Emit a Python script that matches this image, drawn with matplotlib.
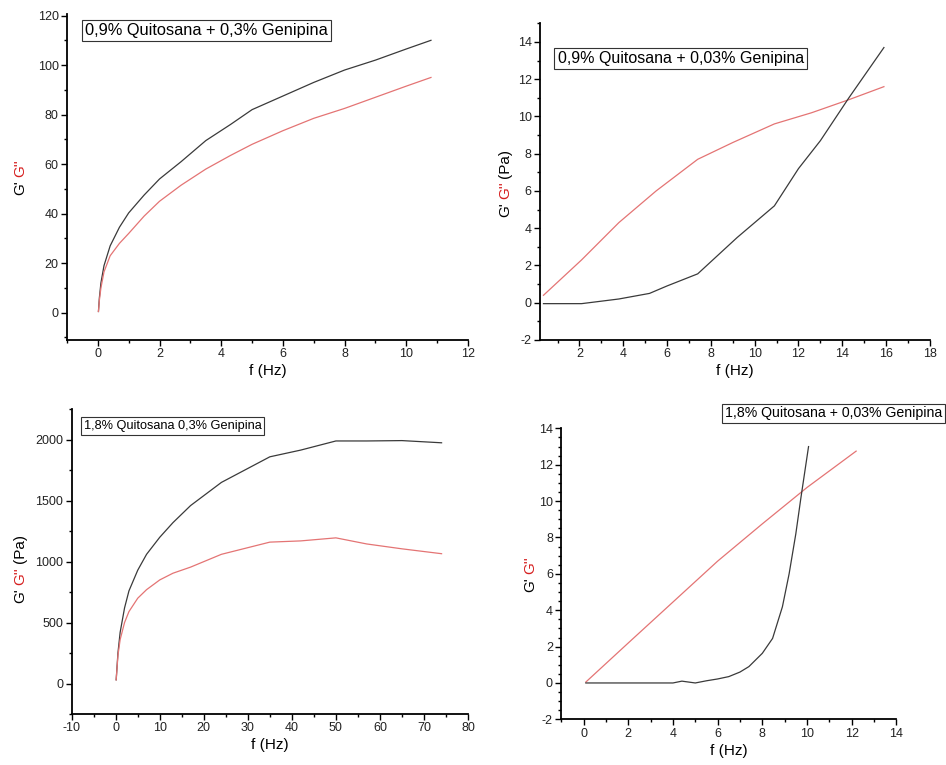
import matplotlib
matplotlib.use('Agg')
import matplotlib.pyplot as plt
from matplotlib.ticker import MultipleLocator

plt.rcParams['font.family'] = ['Liberation Sans', 'DejaVu Sans']
plt.rcParams['axes.unicode_minus'] = False

# --- datos ---
# 0,9% Quitosana + 0,3% Genipina
f1 = [0.02, 0.05, 0.1, 0.2, 0.4, 0.7, 1.0, 1.5, 2.0, 2.7, 3.5, 4.3, 5.0, 6.0, 7.0, 8.0, 9.0, 10.0, 10.8]
g1_el = [0.5, 6, 12, 19, 27, 34.5, 40.3, 47.5, 54, 61, 69.5, 76, 82, 87.5, 93, 98, 102, 106.5, 110]
g1_vis = [0.5, 5, 10, 16.5, 23, 28, 32, 39, 45, 51.5, 58, 63.5, 68, 73.5, 78.5, 82.5, 87, 91.5, 95]

# 0,9% Quitosana + 0,03% Genipina
f2_vis = [0.36, 2.1, 3.8, 5.5, 7.4, 9.0, 10.9, 12.6, 14.3, 15.9]
g2_vis = [0.4, 2.3, 4.3, 6.0, 7.7, 8.6, 9.6, 10.2, 10.9, 11.6]
f2_el = [0.36, 2.1, 3.8, 5.2, 6.0, 7.4, 9.2, 10.9, 12.0, 13.0, 14.3, 15.9]
g2_el = [-0.05, -0.05, 0.2, 0.5, 0.9, 1.55, 3.5, 5.2, 7.2, 8.7, 11.0, 13.7]

# 1,8% Quitosana 0,3% Genipina
f3 = [0.1, 0.5, 1, 2, 3, 5, 7, 10, 13, 17, 24, 35, 42, 50, 57, 65, 74]
g3_el = [30, 250, 420, 620, 760, 930, 1060, 1200, 1320, 1460, 1650, 1860, 1915, 1990, 1990, 1993, 1975]
g3_vis = [30, 230, 360, 500, 590, 700, 770, 850, 905, 955, 1060, 1160, 1170, 1195, 1145, 1105, 1065]

# 1,8% Quitosana + 0,03% Genipina
f4_vis = [0.1, 2, 4, 6, 8, 10, 12.2]
g4_vis = [0.05, 2.2, 4.45, 6.7, 8.75, 10.75, 12.75]
f4_el = [0.1, 2.0, 4.0, 4.4, 5.0, 5.5, 6.0, 6.5, 7.0, 7.4, 8.0, 8.46, 8.9, 9.2, 9.5, 9.73, 10.07]
g4_el = [0.0, 0.0, 0.0, 0.1, 0.0, 0.12, 0.22, 0.35, 0.6, 0.9, 1.63, 2.45, 4.19, 6.0, 8.2, 10.2, 13.0]

BLACK = '#3a3a3a'
RED = '#e47474'

fig = plt.figure(figsize=(9.46, 7.65), dpi=100)


def estilo(ax, xlim, ylim, xmaj, xmin, ymaj, ymin):
    ax.set_xlim(*xlim)
    ax.set_ylim(*ylim)
    ax.xaxis.set_major_locator(MultipleLocator(xmaj))
    ax.xaxis.set_minor_locator(MultipleLocator(xmin))
    ax.yaxis.set_major_locator(MultipleLocator(ymaj))
    ax.yaxis.set_minor_locator(MultipleLocator(ymin))
    for s in ['top', 'right']:
        ax.spines[s].set_visible(False)
    for s in ['left', 'bottom']:
        ax.spines[s].set_linewidth(1.3)
    ax.tick_params(which='major', direction='out', length=4, width=1, labelsize=9, pad=2,
                   labelcolor='#222222')
    ax.tick_params(which='minor', direction='out', length=2.5, width=1)
    ax.set_xlabel('f (Hz)', fontsize=11, labelpad=3)


def ylabel_partes(x, y, partes):
    # etiqueta vertical con trozos de colores distintos
    prev = fig.text(x, y, partes[0][0], color=partes[0][1], rotation=90,
                    ha='center', va='bottom', fontsize=11)
    for txt, col in partes[1:]:
        prev = fig.axes[0].annotate(txt, xy=(0.5, 1), xycoords=prev, xytext=(0, 2.5),
                                    textcoords='offset points', rotation=90, color=col,
                                    ha='center', va='bottom', fontsize=11, annotation_clip=False)


def caja(ax, x, y, txt, size):
    ax.text(x, y, txt, transform=ax.transAxes, fontsize=size, ha='left', va='center',
            bbox=dict(boxstyle='square,pad=0.2', fc='white', ec='#333333', lw=0.8))


# panel 1
ax1 = fig.add_axes([0.0708, 0.5556, 0.4239, 0.4257])
ax1.plot(f1, g1_el, color=BLACK, lw=0.9)
ax1.plot(f1, g1_vis, color=RED, lw=0.9)
estilo(ax1, (-1, 12), (-11, 120.5), 2, 1, 20, 10)
caja(ax1, 0.045, 0.95, '0,9% Quitosana + 0,3% Genipina', 11.8)

# panel 2
ax2 = fig.add_axes([0.5708, 0.5556, 0.4122, 0.4139])
ax2.plot(f2_vis, g2_vis, color=RED, lw=0.9)
ax2.plot(f2_el, g2_el, color=BLACK, lw=0.9)
estilo(ax2, (0.2, 18), (-2, 15), 2, 1, 2, 1)
caja(ax2, 0.045, 0.889, '0,9% Quitosana + 0,03% Genipina', 11.5)

# panel 3
ax3 = fig.add_axes([0.0758, 0.0667, 0.4189, 0.3983])
ax3.plot(f3, g3_el, color=BLACK, lw=0.9)
ax3.plot(f3, g3_vis, color=RED, lw=0.9)
estilo(ax3, (-10, 80), (-250, 2250), 10, 5, 500, 250)
caja(ax3, 0.03, 0.945, '1,8% Quitosana 0,3% Genipina', 9.2)

# panel 4
ax4 = fig.add_axes([0.5933, 0.0597, 0.3542, 0.3803])
ax4.plot(f4_vis, g4_vis, color=RED, lw=0.9)
ax4.plot(f4_el, g4_el, color=BLACK, lw=0.9)
estilo(ax4, (-1, 14), (-2, 14), 2, 1, 2, 0.5)
fig.text(0.996, 1 - 413.5 / 765, '1,8% Quitosana + 0,03% Genipina', fontsize=10.2,
         ha='right', va='center',
         bbox=dict(boxstyle='square,pad=0.2', fc='white', ec='#333333', lw=0.8))

# etiquetas del eje y
ylabel_partes(0.021, 0.745, [("G'", 'black'), ("G''", '#d62020')])
ylabel_partes(0.534, 0.716, [("G'", 'black'), ("G''", '#d62020'), ('(Pa)', 'black')])
ylabel_partes(0.021, 0.212, [("G'", 'black'), ("G''", '#d62020'), ('(Pa)', 'black')])
ylabel_partes(0.560, 0.226, [("G'", 'black'), ("G''", '#d62020')])

fig.savefig('out.png', dpi=100)
